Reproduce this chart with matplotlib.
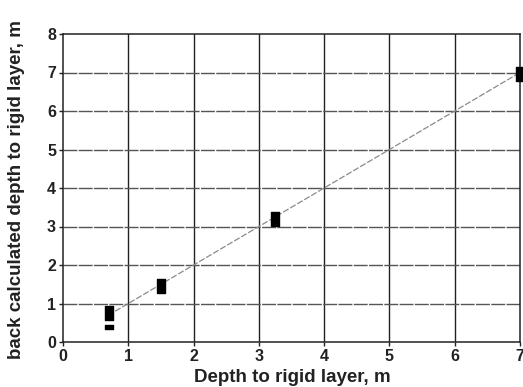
import matplotlib
matplotlib.use("Agg")
from matplotlib import pyplot as plt
from matplotlib.path import Path

plt.rcParams['font.family'] = ['Liberation Sans', 'DejaVu Sans']

# measured vs back calculated depth
depth = [0.7, 1.5, 3.25, 7.0]
back_calc = [0.75, 1.45, 3.2, 6.95]
# the short extra reading at 0.7 m
extra_depth = [0.7]
extra_back = [0.38]
# 1:1 reference line
line_x = [0.8, 7.0]
line_y = [0.8, 7.0]

xticks = [0, 1, 2, 3, 4, 5, 6, 7]
yticks = [0, 1, 2, 3, 4, 5, 6, 7, 8]

# tall and flat rectangles for the markers
tall = Path([(-0.31, -0.5), (0.31, -0.5), (0.31, 0.5), (-0.31, 0.5), (-0.31, -0.5)],
            [Path.MOVETO, Path.LINETO, Path.LINETO, Path.LINETO, Path.CLOSEPOLY])
flat = Path([(-0.5, -0.3), (0.5, -0.3), (0.5, 0.3), (-0.5, 0.3), (-0.5, -0.3)],
            [Path.MOVETO, Path.LINETO, Path.LINETO, Path.LINETO, Path.CLOSEPOLY])

fig = plt.figure(figsize=(5.23, 3.87), dpi=100)
ax = fig.add_axes([63 / 523, 45 / 387, 457 / 523, 308 / 387])

ax.set_xlim(0, 7)
ax.set_ylim(0, 8)
ax.set_xticks(xticks)
ax.set_yticks(yticks)

# grid: solid verticals, broken horizontals
for x in xticks[1:-1]:
    ax.axvline(x, color='#222222', lw=1.0, zorder=1)
for y in yticks[1:-1]:
    ax.axhline(y, color='#555555', lw=1.0, ls=(0, (10, 1)), zorder=1)

ax.plot(line_x, line_y, color='#8a8a8a', lw=0.9, ls=(0, (5, 1.5)), zorder=2)
ax.plot(depth, back_calc, ls='none', marker=tall, markersize=9.5,
        color='black', clip_on=False, zorder=3)
ax.plot(extra_depth, extra_back, ls='none', marker=flat, markersize=5.8,
        color='black', clip_on=False, zorder=3)

for s in ax.spines.values():
    s.set_color('#222222')
    s.set_linewidth(1.1)

ax.tick_params(direction='out', length=3, width=1, color='#222222',
               labelsize=11.5, pad=2)
for lab in ax.get_xticklabels() + ax.get_yticklabels():
    lab.set_fontweight('bold')
    lab.set_color('#222222')

fig.text(292 / 523, 1 - 378 / 387, 'Depth to rigid layer, m', fontsize=13.5,
         fontweight='bold', color='#222222', ha='center', va='center')
fig.text(17 / 523, 1 - 190 / 387, 'back calculated depth to rigid layer, m',
         fontsize=13.5, fontweight='bold', color='#222222', ha='center',
         va='center', rotation=90)

fig.savefig('out.png', dpi=100)
